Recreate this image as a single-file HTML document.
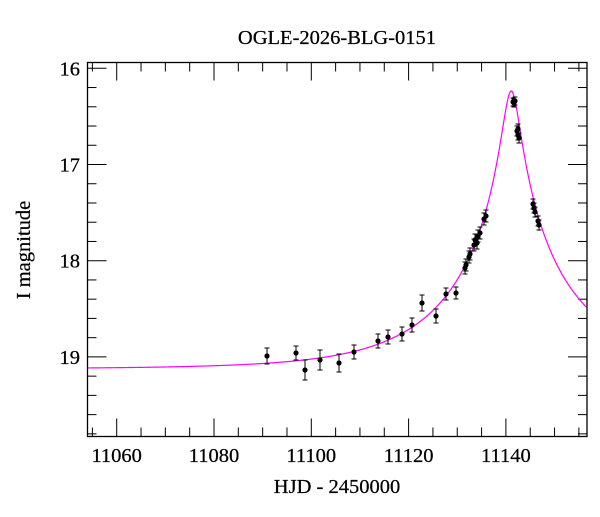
<!DOCTYPE html>
<html><head><meta charset="utf-8"><style>
body{margin:0;background:#fff}
svg text{font-family:"Liberation Serif",serif;fill:#000;stroke:#000;stroke-width:0.25}
</style></head><body>
<svg id="s" width="600" height="512" xmlns="http://www.w3.org/2000/svg">
<rect width="600" height="512" fill="#fff"/>
<text x="337" y="44" font-size="20.5" text-anchor="middle">OGLE-2026-BLG-0151</text>
<text x="337" y="493" font-size="20.5" text-anchor="middle">HJD - 2450000</text>
<text transform="translate(30,250) rotate(-90)" font-size="20.5" text-anchor="middle">I magnitude</text>
<g id="ticks" stroke="#000" stroke-width="1"></g>
<g id="labels" font-size="20.5"></g>
<path id="model" fill="none" stroke="#ff00ff" stroke-width="1.2"/>
<g id="pts"></g>
<rect x="87.5" y="62.5" width="499.5" height="374" fill="none" stroke="#000" stroke-width="1.3"/>
</svg>
<script>
var X=function(t){return 116.7+(t-11060)*4.865;},Y=function(m){return 68.3+(m-16)*96.2;};
var ns="http://www.w3.org/2000/svg";
function el(tag,a,p){var e=document.createElementNS(ns,tag);for(var k in a)e.setAttribute(k,a[k]);p.appendChild(e);return e;}
var tk=document.getElementById('ticks'),lb=document.getElementById('labels');
for(var t=11055;t<=11155;t+=5){var x=X(t),L=(t%20==0)?18:9;
 el('line',{x1:x,x2:x,y1:436.5,y2:436.5-L},tk);el('line',{x1:x,x2:x,y1:62.5,y2:62.5+L},tk);
 if(t%20==0){var tx=el('text',{x:x,y:462,'text-anchor':'middle'},lb);tx.textContent=t;}}
for(var i=0;i<=19;i++){var m=16+i*0.2;var y=Y(m);if(y>436)break;var L=(i%5==0)?19:9;
 el('line',{x1:87.5,x2:87.5+L,y1:y,y2:y},tk);el('line',{x1:587,x2:587-L,y1:y,y2:y},tk);
 if(i%5==0){var tx=el('text',{x:80,y:y+7,'text-anchor':'end'},lb);tx.textContent=Math.round(m);}}
function mag(t){var u0=0.07,tE=24.5,t0=11141.1;var d=(t-t0)/tE;var u=Math.sqrt(u0*u0+d*d);
 var A=(u*u+2)/(u*Math.sqrt(u*u+4));return 19.125-2.5*Math.log10(A);}
var d="";for(var t=11054;t<=11156.6;t+=0.1){d+=(d?"L":"M")+X(t).toFixed(2)+","+Y(mag(t)).toFixed(2);}
document.getElementById('model').setAttribute('d',d);
var P=[[267,356,8],[296,353,7],[305,370,10],[320,360,10],[339,363,9],[354,352,7],[378,341,7],[388,337,7],[402,334,7],[412,325,7],[422,303,8],[436,316,7],[446,294,6],[456,293,6],
[465,268,6],[466,265,6],[469,257,6],[470,254,6],[474,245,6],[475,240,6],[477,243,6],[478,236,6],[480,233,6],[484,219,6],[486,216,6],
[513,102,4],[514,103,4],[515,101,4],[517,131,5],[518,135,5],[519,138,5],[518,129,5],[533,204,5],[534,208,5],[535,212,5],[538,221,5],[539,225,5]];
var g=document.getElementById('pts');
P.forEach(function(p){var x=p[0],y=p[1],e=p[2];
 el('line',{x1:x,x2:x,y1:y-e,y2:y+e,stroke:'#000','stroke-width':1},g);
 el('line',{x1:x-2.5,x2:x+2.5,y1:y-e,y2:y-e,stroke:'#000','stroke-width':1},g);
 el('line',{x1:x-2.5,x2:x+2.5,y1:y+e,y2:y+e,stroke:'#000','stroke-width':1},g);
 el('circle',{cx:x,cy:y,r:2.6,fill:'#000'},g);});
</script>
</body></html>
